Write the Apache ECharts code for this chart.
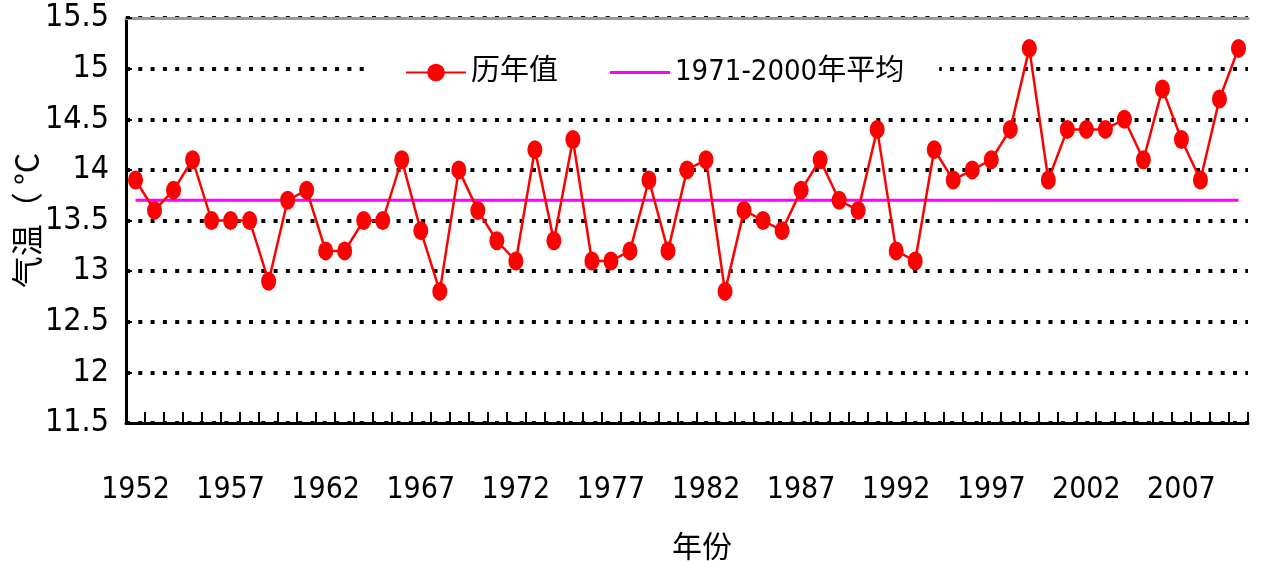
<!DOCTYPE html>
<html>
<head>
<meta charset="utf-8">
<script src="https://cdn.jsdelivr.net/npm/echarts@6/dist/echarts.min.js"></script>
<style>
html,body{margin:0;padding:0;background:#fff;}
#c{width:1264px;height:561px;}
</style>
</head>
<body>
<div id="c"></div>
<script>
const years = [];
for (let y = 1952; y <= 2010; y++) years.push(String(y));
const annualValues = [
  13.9, 13.6, 13.8, 14.1, 13.5, 13.5, 13.5, 12.9, 13.7, 13.8,
  13.2, 13.2, 13.5, 13.5, 14.1, 13.4, 12.8, 14.0, 13.6, 13.3,
  13.1, 14.2, 13.3, 14.3, 13.1, 13.1, 13.2, 13.9, 13.2, 14.0,
  14.1, 12.8, 13.6, 13.5, 13.4, 13.8, 14.1, 13.7, 13.6, 14.4,
  13.2, 13.1, 14.2, 13.9, 14.0, 14.1, 14.4, 15.2, 13.9, 14.4,
  14.4, 14.4, 14.5, 14.1, 14.8, 14.3, 13.9, 14.7, 15.2
];
const meanValue = 13.7;
const meanValues = years.map(() => meanValue);
const seriesNames = ['历年值', '1971-2000年平均'];
const yTicks = { min: 11.5, max: 15.5, interval: 0.5 };

const NUM_FONT = '"DejaVu Sans", "Noto Sans CJK SC", sans-serif';
const CJK_FONT = '"Noto Sans CJK SC", sans-serif';
const STRETCH = 'condensed';

const chart = echarts.init(document.getElementById('c'), null, { renderer: 'canvas' });
chart.setOption({
  backgroundColor: '#ffffff',
  animation: false,
  grid: { left: 126, right: 16, top: 18, bottom: 138, containLabel: false, outerBoundsMode: 'none' },
  legend: {
    data: [
      { name: seriesNames[0] },
      { name: seriesNames[1], icon: 'path://M0,0L60,0L60,3L0,3Z' }
    ],
    left: 370,
    top: 50,
    padding: [8, 35, 8, 35],
    backgroundColor: '#ffffff',
    itemWidth: 60,
    itemHeight: 22,
    itemGap: 52,
    symbolKeepAspect: true,
    textStyle: { fontSize: 29, color: '#000', fontFamily: NUM_FONT, fontStyle: STRETCH }
  },
  xAxis: [{
    type: 'category',
    data: years,
    boundaryGap: true,
    name: '年份',
    nameLocation: 'middle',
    nameGap: 108,
    nameMoveOverlap: false,
    nameTextStyle: { fontSize: 30, color: '#000', fontFamily: CJK_FONT, padding: [0, 0, 0, 30] },
    axisLine: { lineStyle: { color: '#000', width: 3 } },
    axisTick: { show: true, inside: true, length: 11, interval: 0, lineStyle: { color: '#000', width: 2 } },
    axisLabel: { interval: 4, fontSize: 30, color: '#000', fontFamily: NUM_FONT, fontStyle: STRETCH, margin: 52 },
    splitLine: { show: false }
  }, {
    type: 'category',
    data: years,
    position: 'top',
    axisLine: { lineStyle: { color: '#999', width: 3 } },
    axisTick: { show: false },
    axisLabel: { show: false },
    splitLine: { show: false }
  }],
  yAxis: {
    type: 'value',
    min: yTicks.min,
    max: yTicks.max,
    interval: yTicks.interval,
    name: '气温（ °C',
    nameLocation: 'middle',
    nameGap: 83,
    nameRotate: 90,
    nameMoveOverlap: false,
    nameTextStyle: { fontSize: 32, color: '#000', fontFamily: CJK_FONT },
    axisLine: { show: true, lineStyle: { color: '#000', width: 3 } },
    axisTick: { show: true, inside: true, length: 6, lineStyle: { color: '#000', width: 2 } },
    axisLabel: { fontSize: 32, color: '#000', fontFamily: NUM_FONT, fontStyle: STRETCH, margin: 17 },
    splitLine: { show: true, lineStyle: { color: '#000', width: 4, type: [4, 8.3] } }
  },
  series: [{
    name: seriesNames[0],
    type: 'line',
    data: annualValues,
    symbol: 'circle',
    symbolSize: [15, 19],
    showAllSymbol: true,
    itemStyle: { color: '#ff0000' },
    lineStyle: { color: '#ff0000', width: 2.5 },
    z: 3
  }, {
    name: seriesNames[1],
    type: 'line',
    data: meanValues,
    symbol: 'none',
    itemStyle: { color: '#ff00ff' },
    lineStyle: { color: '#ff00ff', width: 3 },
    z: 2
  }]
});
</script>
</body>
</html>
